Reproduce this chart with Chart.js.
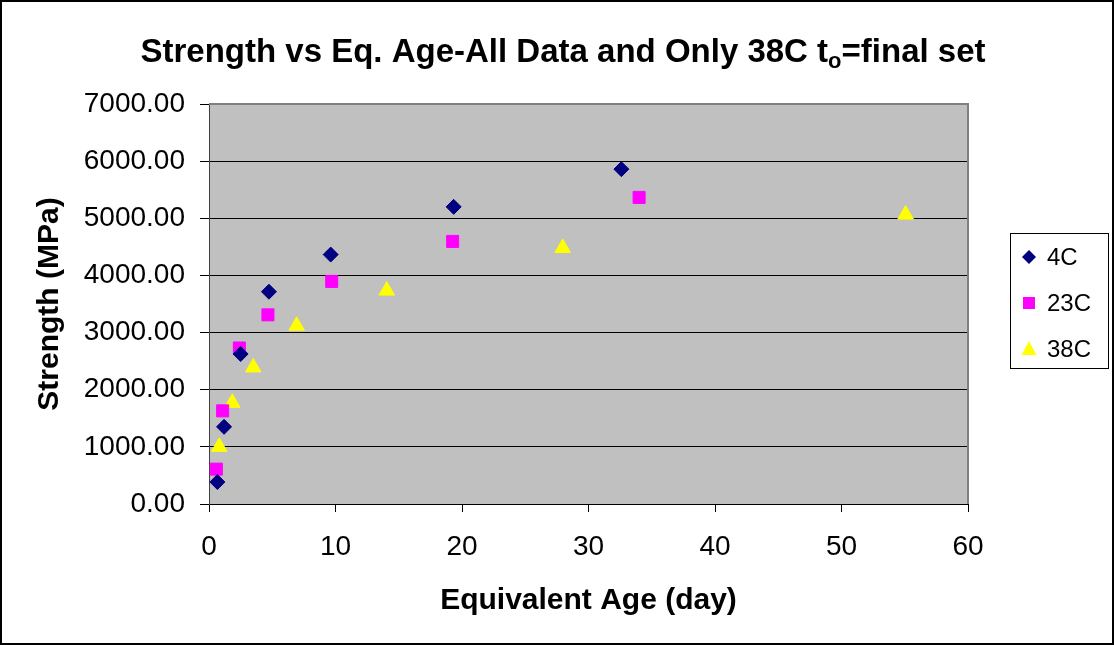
<!DOCTYPE html>
<html>
<head>
<meta charset="utf-8">
<script src="https://cdn.jsdelivr.net/npm/chart.js@4/dist/chart.umd.min.js"></script>
<style>
  html, body { margin: 0; padding: 0; background: #fff; }
  #wrap { position: relative; width: 1115px; height: 645px; }
</style>
</head>
<body>
<div id="wrap"><canvas id="myChart"></canvas></div>
<script>
// equivalent age (day) and strength (MPa) per curing temperature
const seriesNames = ["4C", "23C", "38C"];
const age4C = [0.66, 1.19, 2.5, 4.74, 9.62, 19.34, 32.6];
const str4C = [385, 1350, 2625, 3715, 4365, 5200, 5860];
const age23C = [0.58, 1.08, 2.4, 4.66, 9.7, 19.26, 34.0];
const str23C = [610, 1630, 2730, 3310, 3895, 4595, 5365];
const age38C = [0.81, 1.84, 3.5, 6.93, 14.05, 27.96, 55.07];
const str38C = [1000, 1770, 2390, 3120, 3735, 4480, 5065];
const xTicks = [0, 10, 20, 30, 40, 50, 60];
const yTicks = [0, 1000, 2000, 3000, 4000, 5000, 6000, 7000];

const FONT = "'Liberation Sans', Arial, sans-serif";

function pts(xs, ys) {
   return xs.map((x, i) => ({ x: x, y: ys[i] }));
}

const data = {
   datasets: [
      {
         label: seriesNames[0],
         data: pts(age4C, str4C),
         pointStyle: "rectRot",
         pointRadius: 7.5,
         backgroundColor: "#000080",
         borderColor: "#000080",
         borderWidth: 1,
      },
      {
         label: seriesNames[1],
         data: pts(age23C, str23C),
         pointStyle: "rect",
         pointRadius: 8.5,
         backgroundColor: "#ff00ff",
         borderColor: "#ff00ff",
         borderWidth: 1,
      },
      {
         label: seriesNames[2],
         data: pts(age38C, str38C),
         pointStyle: "triangle",
         pointRadius: 9,
         backgroundColor: "#ffff00",
         borderColor: "#ffff00",
         borderWidth: 1,
      },
   ],
};

// grey plot area, frame round the whole chart
const plotFrame = {
   id: "plotFrame",
   beforeDraw(chart) {
      const { ctx, chartArea: a } = chart;
      ctx.save();
      ctx.fillStyle = "#fff";
      ctx.fillRect(0, 0, chart.width, chart.height);
      ctx.fillStyle = "#c0c0c0";
      ctx.fillRect(a.left, a.top, a.right - a.left, a.bottom - a.top);
      ctx.restore();
   },
   beforeDatasetsDraw(chart) {
      const { ctx, chartArea: a } = chart;
      ctx.save();
      ctx.strokeStyle = "#808080";
      ctx.lineWidth = 2;
      ctx.beginPath();
      ctx.moveTo(a.left, a.top);
      ctx.lineTo(a.right, a.top);
      ctx.lineTo(a.right, a.bottom);
      ctx.stroke();
      ctx.restore();
   },
   afterDraw(chart) {
      const { ctx } = chart;
      ctx.save();
      ctx.strokeStyle = "#000";
      ctx.lineWidth = 2;
      ctx.strokeRect(1, 1, chart.width - 3, chart.height - 2);
      ctx.restore();
   },
};

// title with a subscript "o" in t0
const titleText = {
   id: "titleText",
   afterDraw(chart) {
      const { ctx } = chart;
      const parts = [
         { t: "Strength vs Eq. Age-All Data and Only 38C t", size: 33, dy: 0 },
         { t: "o", size: 22, dy: 6 },
         { t: "=final set", size: 33, dy: 0 },
      ];
      ctx.save();
      ctx.fillStyle = "#000";
      ctx.textBaseline = "alphabetic";
      let total = 0;
      parts.forEach(p => {
         ctx.font = "bold " + p.size + "px " + FONT;
         p.w = ctx.measureText(p.t).width;
         total += p.w;
      });
      let x = 563 - total / 2;
      const base = 62;
      parts.forEach(p => {
         ctx.font = "bold " + p.size + "px " + FONT;
         ctx.fillText(p.t, x, base + p.dy);
         x += p.w;
      });
      ctx.restore();
   },
};

// boxed legend to the right of the plot
const boxLegend = {
   id: "boxLegend",
   afterDraw(chart) {
      const { ctx } = chart;
      const bx = 1010, by = 233, bw = 98, bh = 135;
      ctx.save();
      ctx.fillStyle = "#fff";
      ctx.fillRect(bx, by, bw, bh);
      ctx.strokeStyle = "#000";
      ctx.lineWidth = 1;
      ctx.strokeRect(bx + 0.5, by + 0.5, bw, bh);
      ctx.font = "24px " + FONT;
      ctx.textBaseline = "middle";
      chart.data.datasets.forEach((ds, i) => {
         const cy = 257 + i * 46;
         const cx = 1029;
         ctx.fillStyle = ds.backgroundColor;
         ctx.beginPath();
         if (ds.pointStyle === "rectRot") {
            const r = 7;
            ctx.moveTo(cx - r, cy); ctx.lineTo(cx, cy - r);
            ctx.lineTo(cx + r, cy); ctx.lineTo(cx, cy + r);
         } else if (ds.pointStyle === "rect") {
            ctx.rect(cx - 6, cy - 6, 12, 12);
         } else {
            ctx.moveTo(cx, cy - 8); ctx.lineTo(cx + 7.5, cy + 6);
            ctx.lineTo(cx - 7.5, cy + 6);
         }
         ctx.closePath();
         ctx.fill();
         ctx.fillStyle = "#000";
         ctx.fillText(ds.label, 1047, cy + 1);
      });
      ctx.restore();
   },
};

const ctx = document.getElementById("myChart");
const myChart = new Chart(ctx, {
   type: "scatter",
   data: data,
   plugins: [plotFrame, titleText, boxLegend],
   options: {
      animation: false,
      responsive: true,
      maintainAspectRatio: false,
      layout: { padding: { top: 104, right: 147, bottom: 0, left: 0 } },
      plugins: {
         legend: { display: false },
         title: { display: false },
         tooltip: { enabled: false },
      },
      scales: {
         x: {
            type: "linear",
            min: 0,
            max: 60,
            afterFit: s => { s.height = 141; },
            afterBuildTicks: s => { s.ticks = xTicks.map(v => ({ value: v })); },
            ticks: {
               color: "#000",
               padding: 18,
               font: { family: FONT, size: 28 },
            },
            grid: {
               drawOnChartArea: false,
               drawTicks: true,
               tickLength: 8,
               color: "#000",
            },
            border: { color: "#000", width: 1 },
            title: {
               display: true,
               text: "Equivalent Age (day)",
               color: "#000",
               font: { family: FONT, size: 30, weight: "bold", lineHeight: 1.2 },
               padding: { top: 0, bottom: 26 },
            },
         },
         y: {
            min: 0,
            max: 7000,
            afterFit: s => { s.width = 209; },
            afterBuildTicks: s => { s.ticks = yTicks.map(v => ({ value: v })); },
            ticks: {
               color: "#000",
               padding: 15,
               font: { family: FONT, size: 28 },
               callback: v => Number(v).toFixed(2),
            },
            grid: {
               color: "#000",
               lineWidth: 1,
               drawTicks: true,
               tickLength: 9,
            },
            border: { color: "#404040", width: 1 },
            title: {
               display: true,
               text: "Strength (MPa)",
               color: "#000",
               font: { family: FONT, size: 30, weight: "bold", lineHeight: 1.2 },
               padding: { top: 32, bottom: 0 },
            },
         },
      },
   },
});
</script>
</body>
</html>
